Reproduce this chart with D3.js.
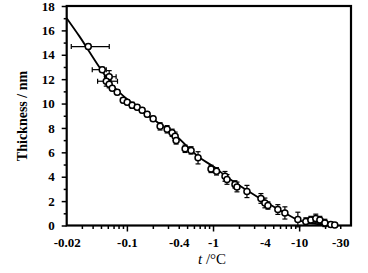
<!DOCTYPE html>
<html>
<head>
<meta charset="utf-8">
<script src="https://cdn.jsdelivr.net/npm/d3@7"></script>
<style>
  body { margin: 0; background: #fff; }
  svg text { font-family: "Liberation Serif", "Times New Roman", serif; }
</style>
</head>
<body>
<div id="grafico"></div>
<script>
// temperature (°C) and film thickness (nm)
const temps = [-0.0356, -0.0517, -0.0623, -0.0576, -0.0623, -0.0676, -0.0772, -0.0906, -0.1008, -0.115,
               -0.1316, -0.1504, -0.172, -0.2017, -0.243, -0.293, -0.335, -0.363, -0.373, -0.474,
               -0.556, -0.670, -0.948, -1.098, -1.377, -1.453, -1.798, -1.897, -2.477, -3.60,
               -4.0, -4.34, -5.66, -6.83, -9.66, -11.96, -13.67, -15.6, -17.4, -19.9, -23.3, -25.9];
const thickness = [14.67, 12.78, 12.20, 11.83, 11.59, 11.26, 10.93, 10.27, 10.11, 9.86,
                   9.70, 9.45, 9.12, 8.75, 8.13, 7.89, 7.60, 7.31, 6.98, 6.29,
                   6.16, 5.55, 4.64, 4.44, 4.03, 3.78, 3.37, 3.16, 2.79, 2.22,
                   1.85, 1.64, 1.31, 1.03, 0.49, 0.33, 0.45, 0.58, 0.45, 0.21, 0.08, 0.04];
const thickErr = [0.2, 0.2, 0.5, 0.4, 0.3, 0.2, 0.2, 0.2, 0.2, 0.25,
                  0.2, 0.2, 0.2, 0.2, 0.3, 0.3, 0.3, 0.35, 0.3, 0.3,
                  0.3, 0.5, 0.3, 0.3, 0.4, 0.4, 0.3, 0.4, 0.5, 0.4,
                  0.4, 0.3, 0.4, 0.5, 0.6, 0.3, 0.3, 0.35, 0.3, 0.3, 0.2, 0.2];
// horizontal error bars (only the first few points have them)
const tempErrLow  = [-0.0226, -0.0396, -0.055, -0.0457];
const tempErrHigh = [-0.0624, -0.0576, -0.075, -0.0778];

// fitted curve
const fitTemps = [-0.02, -0.028, -0.0478, -0.0653, -0.115, -0.2017, -0.344, -0.689, -1.0, -1.532,
                  -2.61, -4.0, -6.65, -9.66, -14.8, -25.2];
const fitThick = [17.0, 15.53, 13.0, 11.64, 10.02, 8.71, 7.56, 5.59, 4.85, 3.86,
                  2.79, 1.97, 1.07, 0.45, 0.16, 0.0];

const xTickLabels = [-0.02, -0.1, -0.4, -1, -4, -10, -30];
const yTicks = [0, 2, 4, 6, 8, 10, 12, 14, 16, 18];

const width = 368, height = 273;
const pLeft = 66.7, pRight = 351, pTop = 6, pBottom = 225.5;

const svg = d3.select("#grafico")
              .append("svg")
              .attr("width", width)
              .attr("height", height);

// log scale on |t|
const x = d3.scaleLog().domain([0.02, 40]).range([pLeft, pRight]);
const y = d3.scaleLinear().domain([0, 18]).range([pBottom, pTop]);

const fontSize = "13px";

// minor x ticks
const minorX = [];
[0.01, 0.1, 1, 10].forEach(dec => {
    for (let k = 2; k <= 9; k++) {
        const v = dec * k;
        if (v >= 0.03 && v <= 30) minorX.push(v);
    }
});

svg.append("g")
   .attr("transform", `translate(0, ${pBottom})`)
   .call(d3.axisBottom(x).tickValues(minorX).tickSize(3.5).tickFormat(""))
   .call(g => g.select(".domain").remove())
   .selectAll("line").attr("stroke-width", 1.5);

svg.append("g")
   .attr("transform", `translate(0, ${pBottom})`)
   .call(d3.axisBottom(x).tickValues([0.1, 1, 10]).tickSize(6).tickFormat(""))
   .call(g => g.select(".domain").remove())
   .selectAll("line").attr("stroke-width", 1.5);

// x tick labels
svg.append("g")
   .attr("transform", `translate(0, ${pBottom})`)
   .call(d3.axisBottom(x).tickValues(xTickLabels.map(Math.abs)).tickSize(0).tickPadding(12)
           .tickFormat(d => "-" + d))
   .call(g => g.select(".domain").remove())
   .selectAll("text")
   .attr("font-size", fontSize)
   .attr("font-weight", "bold")
   .attr("font-family", "Liberation Serif, serif")
   .attr("fill", "#000");

// y axis
svg.append("g")
   .attr("transform", `translate(${pLeft}, 0)`)
   .call(d3.axisLeft(y).tickValues(d3.range(1, 18, 2)).tickSize(3).tickFormat(""))
   .call(g => g.select(".domain").remove())
   .selectAll("line").attr("stroke-width", 1.5);

svg.append("g")
   .attr("transform", `translate(${pLeft}, 0)`)
   .call(d3.axisLeft(y).tickValues(yTicks).tickSize(5).tickPadding(7))
   .call(g => g.select(".domain").remove())
   .call(g => g.selectAll("line").attr("stroke-width", 1.5))
   .selectAll("text")
   .attr("font-size", fontSize)
   .attr("font-weight", "bold")
   .attr("font-family", "Liberation Serif, serif")
   .attr("fill", "#000");

// frame
svg.append("rect")
   .attr("x", pLeft)
   .attr("y", pTop)
   .attr("width", pRight - pLeft)
   .attr("height", pBottom - pTop)
   .attr("fill", "none")
   .attr("stroke", "#000")
   .attr("stroke-width", 2.2);

// fitted curve
const line = d3.line()
               .x((d, i) => x(Math.abs(fitTemps[i])))
               .y((d, i) => y(fitThick[i]))
               .curve(d3.curveMonotoneX);

svg.append("path")
   .attr("d", line(fitTemps))
   .attr("fill", "none")
   .attr("stroke", "#000")
   .attr("stroke-width", 1.8);

const cap = 2.5;

// vertical error bars
const errG = svg.append("g").attr("stroke", "#000").attr("stroke-width", 1.2);
temps.forEach((t, i) => {
    const cx = x(Math.abs(t));
    const y1 = y(thickness[i] - thickErr[i]);
    const y2 = y(thickness[i] + thickErr[i]);
    errG.append("line").attr("x1", cx).attr("x2", cx).attr("y1", y1).attr("y2", y2);
    errG.append("line").attr("x1", cx - cap).attr("x2", cx + cap).attr("y1", y1).attr("y2", y1);
    errG.append("line").attr("x1", cx - cap).attr("x2", cx + cap).attr("y1", y2).attr("y2", y2);
});

// horizontal error bars
tempErrLow.forEach((lo, i) => {
    const cy = y(thickness[i]);
    const x1 = x(Math.abs(lo));
    const x2 = x(Math.abs(tempErrHigh[i]));
    errG.append("line").attr("x1", x1).attr("x2", x2).attr("y1", cy).attr("y2", cy);
    errG.append("line").attr("x1", x1).attr("x2", x1).attr("y1", cy - cap).attr("y2", cy + cap);
    errG.append("line").attr("x1", x2).attr("x2", x2).attr("y1", cy - cap).attr("y2", cy + cap);
});

// points
svg.selectAll("circle.pt")
   .data(temps)
   .enter()
   .append("circle")
   .attr("class", "pt")
   .attr("cx", d => x(Math.abs(d)))
   .attr("cy", (d, i) => y(thickness[i]))
   .attr("r", 3)
   .attr("fill", "#fff")
   .attr("stroke", "#000")
   .attr("stroke-width", 1.5);

// axis titles
svg.append("text")
   .attr("transform", "translate(27, 116) rotate(-90)")
   .attr("font-size", "14px")
   .attr("font-weight", "bold")
   .attr("text-anchor", "middle")
   .text("Thickness / nm");

const xt = svg.append("text")
   .attr("x", 212)
   .attr("y", 264)
   .attr("font-size", "15px")
   .attr("text-anchor", "middle");
xt.append("tspan").attr("font-style", "italic").text("t");
xt.append("tspan").text(" /°C");
</script>
</body>
</html>
